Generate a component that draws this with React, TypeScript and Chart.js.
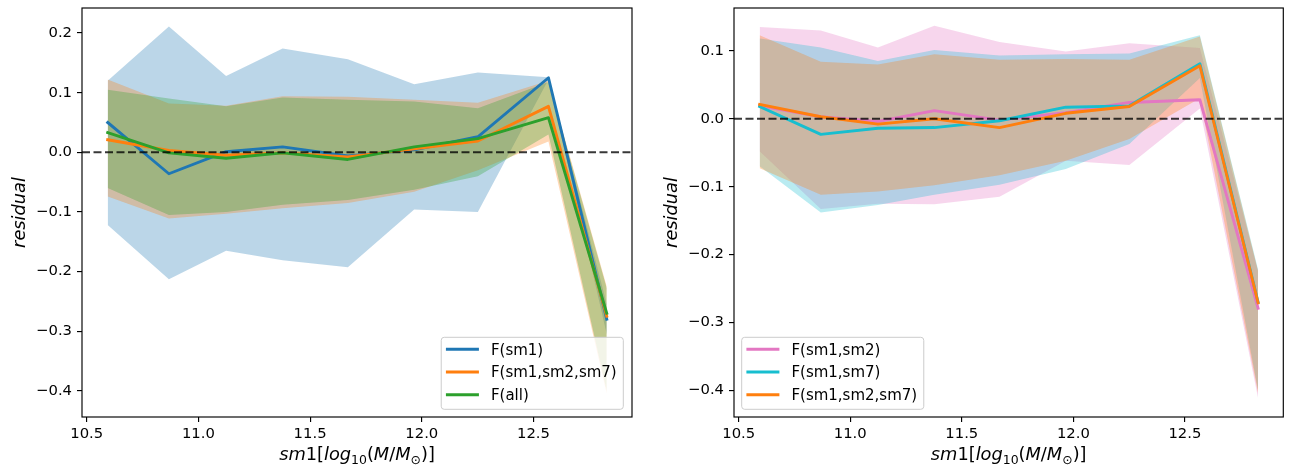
import React, { useEffect, useRef } from 'react';
import { Chart, registerables } from 'chart.js';

Chart.register(...registerables);

// ---------- data ----------
const xBins = [10.594, 10.868, 11.124, 11.377, 11.669, 11.966, 12.251, 12.567, 12.828];
const xTicks = [10.5, 11.0, 11.5, 12.0, 12.5];
const xRange = [10.479, 12.941];
const zeroLine = 0;

const leftYTicks = [-0.4, -0.3, -0.2, -0.1, 0.0, 0.1, 0.2];
const leftYRange = [-0.444, 0.242];
const rightYTicks = [-0.4, -0.3, -0.2, -0.1, 0.0, 0.1];
const rightYRange = [-0.439, 0.163];

// left panel
const sm1Mean = [0.050, -0.036, 0.001, 0.009, -0.006, 0.004, 0.026, 0.125, -0.280];
const sm1Upper = [0.120, 0.211, 0.128, 0.174, 0.156, 0.114, 0.134, 0.126, -0.255];
const sm1Lower = [-0.122, -0.213, -0.165, -0.181, -0.193, -0.096, -0.100, 0.122, -0.305];

const sm127Mean = [0.021, 0.003, -0.005, -0.001, -0.008, 0.006, 0.019, 0.077, -0.275];
const sm127Upper = [0.122, 0.082, 0.078, 0.094, 0.093, 0.088, 0.083, 0.120, -0.225];
const sm127Lower = [-0.074, -0.111, -0.103, -0.094, -0.085, -0.066, -0.030, 0.018, -0.405];

const allMean = [0.033, -0.001, -0.010, -0.001, -0.012, 0.009, 0.023, 0.058, -0.270];
const allUpper = [0.105, 0.090, 0.077, 0.092, 0.088, 0.085, 0.074, 0.118, -0.228];
const allLower = [-0.060, -0.105, -0.100, -0.088, -0.080, -0.063, -0.040, 0.030, -0.400];

// right panel
const sm12Mean = [0.019, 0.003, -0.004, 0.012, -0.002, 0.009, 0.024, 0.028, -0.279];
const sm12Upper = [0.135, 0.130, 0.105, 0.137, 0.113, 0.099, 0.111, 0.104, -0.225];
const sm12Lower = [-0.048, -0.133, -0.125, -0.126, -0.115, -0.062, -0.068, 0.015, -0.411];

const sm17Mean = [0.018, -0.023, -0.014, -0.013, -0.003, 0.017, 0.019, 0.081, -0.270];
const sm17Upper = [0.118, 0.105, 0.085, 0.101, 0.093, 0.095, 0.096, 0.123, -0.222];
const sm17Lower = [-0.070, -0.138, -0.127, -0.112, -0.097, -0.074, -0.037, 0.060, -0.400];

const sm127RMean = [0.021, 0.003, -0.008, 0.000, -0.013, 0.008, 0.018, 0.078, -0.271];
const sm127RUpper = [0.123, 0.084, 0.080, 0.095, 0.087, 0.088, 0.087, 0.121, -0.224];
const sm127RLower = [-0.073, -0.112, -0.107, -0.098, -0.083, -0.062, -0.030, 0.030, -0.404];

const leftSeries = [
  { label: 'F(sm1)', color: '#1f77b4', mean: sm1Mean, upper: sm1Upper, lower: sm1Lower },
  { label: 'F(sm1,sm2,sm7)', color: '#ff7f0e', mean: sm127Mean, upper: sm127Upper, lower: sm127Lower },
  { label: 'F(all)', color: '#2ca02c', mean: allMean, upper: allUpper, lower: allLower },
];
const rightSeries = [
  { label: 'F(sm1,sm2)', color: '#e377c2', mean: sm12Mean, upper: sm12Upper, lower: sm12Lower },
  { label: 'F(sm1,sm7)', color: '#17becf', mean: sm17Mean, upper: sm17Upper, lower: sm17Lower },
  { label: 'F(sm1,sm2,sm7)', color: '#ff7f0e', mean: sm127RMean, upper: sm127RUpper, lower: sm127RLower },
];

const yLabelText = 'residual';

// ---------- helpers ----------
const FONT = 'DejaVu Sans';
const TICK_SIZE = 14.8;
const LABEL_SIZE = 17.8;
const LEGEND_SIZE = 15;

function rgba(hex: string, a: number) {
  const n = parseInt(hex.slice(1), 16);
  return `rgba(${(n >> 16) & 255},${(n >> 8) & 255},${n & 255},${a})`;
}

function pts(ys: number[]) {
  return ys.map((y, i) => ({ x: xBins[i], y }));
}

function fmt(v: any) {
  const n = Number(v);
  const s = Math.abs(n) < 1e-9 ? '0.0' : n.toFixed(1);
  return s.replace('-', '\u2212');
}

function drawXLabel(ctx: CanvasRenderingContext2D, cx: number, baseline: number) {
  const f = LABEL_SIZE;
  const sub = f * 0.7;
  const runs = [
    { t: 'sm', it: true, sub: false },
    { t: '1', it: false, sub: false },
    { t: '[', it: false, sub: false },
    { t: 'log', it: true, sub: false },
    { t: '10', it: false, sub: true },
    { t: '(', it: false, sub: false },
    { t: 'M', it: true, sub: false },
    { t: '/', it: false, sub: false },
    { t: 'M', it: true, sub: false },
    { t: '\u2299', it: false, sub: true },
    { t: ')]', it: false, sub: false },
  ];
  const fontOf = (r: any) => `${r.it ? 'italic ' : ''}${r.sub ? sub : f}px "${FONT}"`;
  let total = 0;
  const widths = runs.map((r) => {
    ctx.font = fontOf(r);
    const w = ctx.measureText(r.t).width;
    total += w;
    return w;
  });
  let x = cx - total / 2;
  ctx.fillStyle = '#000';
  ctx.textBaseline = 'alphabetic';
  ctx.textAlign = 'left';
  runs.forEach((r, i) => {
    ctx.font = fontOf(r);
    ctx.fillText(r.t, x, baseline + (r.sub ? f * 0.22 : 0));
    x += widths[i];
  });
}

function drawLegend(ctx: CanvasRenderingContext2D, area: any, series: any[], loc: string) {
  const f = LEGEND_SIZE;
  ctx.font = `${f}px "${FONT}"`;
  const textW = Math.max(...series.map((s) => ctx.measureText(s.label).width));
  const padL = 4.7, handle = 33, gap = 12, padR = 6.6;
  const w = padL + handle + gap + textW + padR;
  const h = 72;
  const x0 = loc === 'lower right' ? area.right - 8.7 - w : area.left + 7.7;
  const y0 = area.bottom - 7.7 - h;
  ctx.save();
  ctx.beginPath();
  const r = 3;
  ctx.moveTo(x0 + r, y0);
  ctx.lineTo(x0 + w - r, y0);
  ctx.arcTo(x0 + w, y0, x0 + w, y0 + r, r);
  ctx.lineTo(x0 + w, y0 + h - r);
  ctx.arcTo(x0 + w, y0 + h, x0 + w - r, y0 + h, r);
  ctx.lineTo(x0 + r, y0 + h);
  ctx.arcTo(x0, y0 + h, x0, y0 + h - r, r);
  ctx.lineTo(x0, y0 + r);
  ctx.arcTo(x0, y0, x0 + r, y0, r);
  ctx.closePath();
  ctx.fillStyle = 'rgba(255,255,255,0.8)';
  ctx.fill();
  ctx.strokeStyle = '#cccccc';
  ctx.lineWidth = 1;
  ctx.stroke();
  series.forEach((s, i) => {
    const yy = y0 + 12 + i * 22.7;
    ctx.beginPath();
    ctx.moveTo(x0 + padL, yy);
    ctx.lineTo(x0 + padL + handle, yy);
    ctx.strokeStyle = s.color;
    ctx.lineWidth = 2.9;
    ctx.lineCap = 'butt';
    ctx.stroke();
    ctx.fillStyle = '#000';
    ctx.font = `${f}px "${FONT}"`;
    ctx.textAlign = 'left';
    ctx.textBaseline = 'alphabetic';
    ctx.fillText(s.label, x0 + padL + handle + gap, yy + f * 0.365);
  });
  ctx.restore();
}

type Spec = {
  W: number;
  H: number;
  area: { left: number; right: number; top: number; bottom: number };
  yRange: number[];
  yTicks: number[];
  series: any[];
  legendLoc: string;
  yLabelX: number;
};

function makeChart(canvas: HTMLCanvasElement, spec: Spec) {
  const { W, H, area, series } = spec;
  const datasets: any[] = [];
  series.forEach((s, i) => {
    datasets.push({
      data: pts(s.upper),
      fill: '+1',
      backgroundColor: rgba(s.color, 0.3),
      borderColor: 'rgba(0,0,0,0)',
      borderWidth: 0,
      pointRadius: 0,
      order: 30 - i,
    });
    datasets.push({
      data: pts(s.lower),
      fill: false,
      borderColor: 'rgba(0,0,0,0)',
      borderWidth: 0,
      pointRadius: 0,
      order: 30 - i,
    });
  });
  series.forEach((s, i) => {
    datasets.push({
      data: pts(s.mean),
      fill: false,
      borderColor: s.color,
      borderWidth: 2.9,
      borderJoinStyle: 'round',
      borderCapStyle: 'square',
      pointRadius: 0,
      order: 10 - i,
    });
  });

  const overlay = {
    id: 'overlay',
    afterDatasetsDraw(chart: any) {
      const { ctx, chartArea: ca, scales } = chart;
      const y = scales.y.getPixelForValue(zeroLine);
      ctx.save();
      ctx.beginPath();
      ctx.setLineDash([8, 3.5]);
      ctx.moveTo(ca.left, y);
      ctx.lineTo(ca.right, y);
      ctx.strokeStyle = 'rgba(0,0,0,0.78)';
      ctx.lineWidth = 2.1;
      ctx.stroke();
      ctx.restore();
    },
    afterDraw(chart: any) {
      const { ctx, chartArea: ca } = chart;
      ctx.save();
      drawLegend(ctx, ca, series, spec.legendLoc);
      ctx.strokeStyle = '#000';
      ctx.lineWidth = 1.15;
      ctx.strokeRect(ca.left, ca.top, ca.right - ca.left, ca.bottom - ca.top);
      drawXLabel(ctx, (ca.left + ca.right) / 2, 460);
      ctx.translate(spec.yLabelX, (ca.top + ca.bottom) / 2);
      ctx.rotate(-Math.PI / 2);
      ctx.font = `italic ${LABEL_SIZE}px "${FONT}"`;
      ctx.fillStyle = '#000';
      ctx.textAlign = 'center';
      ctx.textBaseline = 'alphabetic';
      ctx.fillText(yLabelText, 0, 0);
      ctx.restore();
    },
  };

  const tickFont = { family: FONT, size: TICK_SIZE };
  const grid = { drawOnChartArea: false, drawTicks: true, tickLength: 5, color: '#000', lineWidth: 1.15 };

  return new Chart(canvas, {
    type: 'line',
    data: { datasets },
    options: {
      responsive: false,
      maintainAspectRatio: false,
      animation: false,
      events: [],
      layout: { padding: { left: 0, right: W - area.right, top: area.top, bottom: 0 } },
      plugins: { legend: { display: false }, tooltip: { enabled: false }, filler: { propagate: false } },
      scales: {
        x: {
          type: 'linear',
          min: xRange[0],
          max: xRange[1],
          afterBuildTicks: (s: any) => {
            s.ticks = xTicks.map((v) => ({ value: v }));
          },
          afterFit: (s: any) => {
            s.height = H - area.bottom;
            s.paddingLeft = 0;
            s.paddingRight = 0;
          },
          ticks: { callback: (v: any) => fmt(v), font: tickFont, color: '#000', padding: 3, maxRotation: 0, autoSkip: false },
          grid,
          border: { display: false },
        },
        y: {
          type: 'linear',
          min: spec.yRange[0],
          max: spec.yRange[1],
          afterBuildTicks: (s: any) => {
            s.ticks = spec.yTicks.map((v) => ({ value: v }));
          },
          afterFit: (s: any) => {
            s.width = area.left;
            s.paddingTop = 0;
            s.paddingBottom = 0;
          },
          ticks: { callback: (v: any) => fmt(v), font: tickFont, color: '#000', padding: 5, autoSkip: false },
          grid,
          border: { display: false },
        },
      },
    },
    plugins: [overlay],
  } as any);
}

function Panel({ left, spec }: { left: number; spec: Spec }) {
  const ref = useRef<HTMLCanvasElement>(null);
  useEffect(() => {
    const c = makeChart(ref.current!, spec);
    return () => c.destroy();
  }, []);
  return (
    <canvas
      ref={ref}
      width={spec.W}
      height={spec.H}
      style={{ position: 'absolute', left, top: 0, width: spec.W, height: spec.H }}
    />
  );
}

const leftSpec: Spec = {
  W: 640,
  H: 468,
  area: { left: 82, right: 632, top: 8, bottom: 417 },
  yRange: leftYRange,
  yTicks: leftYTicks,
  series: leftSeries,
  legendLoc: 'lower right',
  yLabelX: 24.5,
};

const rightSpec: Spec = {
  W: 649,
  H: 468,
  area: { left: 94, right: 643.3, top: 8, bottom: 417 },
  yRange: rightYRange,
  yTicks: rightYTicks,
  series: rightSeries,
  legendLoc: 'lower left',
  yLabelX: 36.5,
};

export default function App() {
  return (
    <div style={{ position: 'absolute', left: 0, top: 0, width: 1289, height: 468, background: '#fff' }}>
      <Panel left={0} spec={leftSpec} />
      <Panel left={640} spec={rightSpec} />
    </div>
  );
}
